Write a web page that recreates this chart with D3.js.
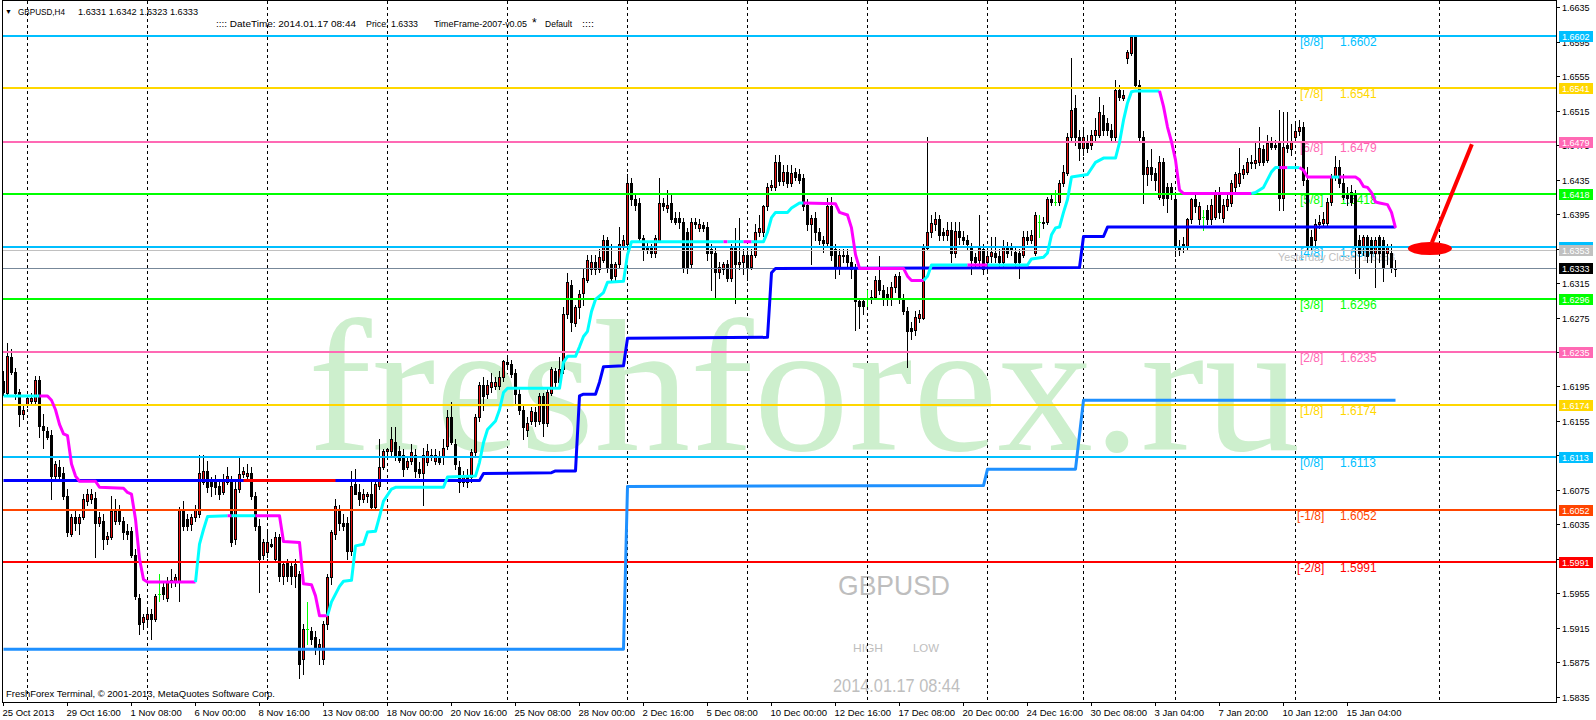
<!DOCTYPE html>
<html><head><meta charset="utf-8">
<script src="https://cdn.jsdelivr.net/npm/d3@7/dist/d3.min.js"></script>
<style>
html,body{margin:0;padding:0;background:#fff;}
svg{display:block;}
</style></head>
<body>
<svg id="chart" width="1596" height="720"></svg>
<script>
// ---------- DATA ----------
// H4 candles [open, high, low, close], oldest first
const ohlc = [
[1.6201,1.6213,1.6185,1.6189],[1.6188,1.6245,1.6185,1.6230],[1.6229,1.6238,1.6210,1.6212],[1.6212,1.6217,1.6180,1.6188],[1.6189,1.6192,1.6149,1.6163],
[1.6163,1.6174,1.6157,1.6168],[1.6175,1.6185,1.6171,1.6182],[1.6178,1.6187,1.6174,1.6182],[1.6178,1.6207,1.6175,1.6203],[1.6203,1.6207,1.6136,1.6149],
[1.6149,1.6163,1.6124,1.6145],[1.6143,1.6148,1.6134,1.6136],[1.6139,1.6145,1.6064,1.6091],[1.6091,1.6108,1.6087,1.6105],[1.6102,1.6110,1.6085,1.6091],
[1.6095,1.6101,1.6064,1.6068],[1.6068,1.6076,1.6021,1.6026],[1.6024,1.6047,1.6021,1.6044],[1.6044,1.6050,1.6029,1.6037],[1.6037,1.6047,1.6024,1.6044],
[1.6044,1.6070,1.6041,1.6064],[1.6062,1.6076,1.6058,1.6070],[1.6064,1.6076,1.6060,1.6070],[1.6066,1.6073,1.5997,1.6037],[1.6037,1.6049,1.6033,1.6043],
[1.6039,1.6047,1.6006,1.6018],[1.6018,1.6026,1.6012,1.6021],[1.6020,1.6068,1.6018,1.6050],[1.6039,1.6064,1.6035,1.6050],[1.6050,1.6058,1.6035,1.6039],
[1.6039,1.6043,1.6018,1.6026],[1.6027,1.6035,1.6018,1.6024],[1.6027,1.6032,1.5997,1.6000],[1.6000,1.6006,1.5948,1.5952],[1.5950,1.5954,1.5908,1.5919],
[1.5922,1.5931,1.5914,1.5927],[1.5925,1.5937,1.5916,1.5931],[1.5931,1.5937,1.5902,1.5925],[1.5925,1.5954,1.5923,1.5952],[1.5954,1.5977,1.5946,1.5954],
[1.5962,1.5968,1.5948,1.5954],[1.5950,1.5974,1.5946,1.5969],[1.5968,1.5983,1.5962,1.5971],[1.5968,1.5977,1.5963,1.5974],[1.5968,1.6055,1.5946,1.6053],
[1.6053,1.6062,1.6029,1.6033],[1.6041,1.6047,1.6029,1.6033],[1.6035,1.6047,1.6029,1.6043],[1.6043,1.6058,1.6039,1.6053],[1.6047,1.6116,1.6044,1.6095],
[1.6084,1.6115,1.6082,1.6097],[1.6097,1.6108,1.6073,1.6078],[1.6085,1.6090,1.6068,1.6079],[1.6085,1.6092,1.6070,1.6078],[1.6079,1.6087,1.6064,1.6070],
[1.6073,1.6093,1.6070,1.6087],[1.6084,1.6101,1.6082,1.6091],[1.6085,1.6091,1.6010,1.6015],[1.6018,1.6084,1.6012,1.6076],[1.6076,1.6113,1.6073,1.6093],
[1.6093,1.6101,1.6090,1.6097],[1.6091,1.6105,1.6087,1.6095],[1.6095,1.6101,1.6064,1.6068],[1.6068,1.6073,1.6029,1.6033],[1.6033,1.6041,1.5956,1.5995],
[1.6000,1.6018,1.5995,1.6014],[1.6003,1.6029,1.5997,1.6014],[1.6012,1.6018,1.6009,1.6010],[1.5995,1.6026,1.5992,1.6020],[1.6020,1.6024,1.5969,1.5975],
[1.5975,1.5992,1.5966,1.5989],[1.5991,1.5995,1.5969,1.5975],[1.5987,1.5992,1.5966,1.5975],[1.5975,1.5995,1.5962,1.5989],[1.5977,1.5981,1.5857,1.5873],
[1.5879,1.5919,1.5861,1.5914],[1.5914,1.5945,1.5896,1.5914],[1.5911,1.5916,1.5896,1.5902],[1.5904,1.5911,1.5885,1.5893],[1.5893,1.5902,1.5873,1.5896],
[1.5879,1.5923,1.5873,1.5919],[1.5919,1.5977,1.5914,1.5974],[1.5974,1.6029,1.5966,1.6026],[1.6024,1.6064,1.6018,1.6056],[1.6053,1.6058,1.6029,1.6037],
[1.6037,1.6047,1.6029,1.6033],[1.6037,1.6043,1.5995,1.6004],[1.6004,1.6097,1.6000,1.6079],[1.6082,1.6099,1.6070,1.6070],[1.6072,1.6082,1.6058,1.6064],
[1.6064,1.6076,1.6061,1.6070],[1.6068,1.6073,1.6061,1.6070],[1.6070,1.6087,1.6053,1.6055],[1.6055,1.6087,1.6053,1.6082],[1.6079,1.6134,1.6076,1.6102],
[1.6102,1.6122,1.6099,1.6120],[1.6120,1.6124,1.6114,1.6122],[1.6120,1.6148,1.6116,1.6134],[1.6130,1.6148,1.6110,1.6116],[1.6120,1.6126,1.6107,1.6110],
[1.6116,1.6122,1.6091,1.6099],[1.6102,1.6113,1.6099,1.6108],[1.6108,1.6128,1.6105,1.6119],[1.6116,1.6122,1.6090,1.6097],[1.6099,1.6107,1.6090,1.6095],
[1.6095,1.6124,1.6058,1.6116],[1.6107,1.6128,1.6104,1.6120],[1.6116,1.6122,1.6110,1.6114],[1.6108,1.6122,1.6105,1.6116],[1.6114,1.6120,1.6105,1.6107],
[1.6113,1.6134,1.6105,1.6124],[1.6126,1.6168,1.6122,1.6160],[1.6160,1.6177,1.6128,1.6130],[1.6128,1.6134,1.6099,1.6105],[1.6102,1.6108,1.6072,1.6084],
[1.6084,1.6097,1.6079,1.6090],[1.6091,1.6099,1.6078,1.6084],[1.6090,1.6122,1.6084,1.6119],[1.6119,1.6163,1.6114,1.6159],[1.6159,1.6200,1.6155,1.6197],
[1.6197,1.6206,1.6168,1.6184],[1.6186,1.6203,1.6182,1.6197],[1.6194,1.6211,1.6189,1.6200],[1.6195,1.6206,1.6192,1.6200],[1.6195,1.6213,1.6192,1.6206],
[1.6206,1.6226,1.6201,1.6224],[1.6223,1.6232,1.6217,1.6221],[1.6221,1.6226,1.6206,1.6209],[1.6211,1.6215,1.6174,1.6186],[1.6186,1.6192,1.6163,1.6168],
[1.6168,1.6174,1.6134,1.6148],[1.6145,1.6159,1.6137,1.6153],[1.6155,1.6171,1.6151,1.6166],[1.6165,1.6171,1.6149,1.6155],[1.6155,1.6188,1.6151,1.6184],
[1.6184,1.6188,1.6137,1.6153],[1.6153,1.6194,1.6149,1.6189],[1.6188,1.6218,1.6185,1.6215],[1.6213,1.6217,1.6194,1.6200],[1.6200,1.6229,1.6196,1.6215],
[1.6215,1.6287,1.6211,1.6279],[1.6279,1.6327,1.6275,1.6316],[1.6313,1.6319,1.6259,1.6270],[1.6269,1.6290,1.6265,1.6287],[1.6287,1.6307,1.6275,1.6302],
[1.6304,1.6331,1.6290,1.6321],[1.6319,1.6348,1.6316,1.6342],[1.6331,1.6348,1.6325,1.6340],[1.6340,1.6348,1.6325,1.6331],[1.6331,1.6354,1.6328,1.6345],
[1.6342,1.6371,1.6339,1.6365],[1.6365,1.6369,1.6328,1.6333],[1.6337,1.6360,1.6319,1.6321],[1.6323,1.6340,1.6319,1.6337],[1.6337,1.6380,1.6333,1.6360],
[1.6357,1.6371,1.6354,1.6365],[1.6360,1.6441,1.6356,1.6431],[1.6431,1.6437,1.6406,1.6412],[1.6412,1.6417,1.6400,1.6406],[1.6408,1.6414,1.6365,1.6367],
[1.6367,1.6371,1.6342,1.6354],[1.6356,1.6362,1.6350,1.6354],[1.6356,1.6360,1.6345,1.6350],[1.6350,1.6371,1.6345,1.6367],[1.6365,1.6437,1.6363,1.6408],
[1.6408,1.6414,1.6400,1.6404],[1.6402,1.6423,1.6398,1.6406],[1.6408,1.6418,1.6386,1.6389],[1.6391,1.6397,1.6383,1.6386],[1.6391,1.6398,1.6379,1.6386],
[1.6386,1.6391,1.6328,1.6334],[1.6374,1.6379,1.6327,1.6334],[1.6337,1.6391,1.6333,1.6386],[1.6386,1.6391,1.6379,1.6383],[1.6379,1.6389,1.6375,1.6383],
[1.6382,1.6386,1.6375,1.6379],[1.6380,1.6386,1.6342,1.6350],[1.6354,1.6360,1.6307,1.6350],[1.6350,1.6356,1.6299,1.6328],[1.6328,1.6340,1.6321,1.6334],
[1.6331,1.6340,1.6325,1.6337],[1.6337,1.6342,1.6317,1.6321],[1.6321,1.6360,1.6317,1.6356],[1.6356,1.6379,1.6292,1.6337],[1.6337,1.6391,1.6331,1.6340],
[1.6339,1.6354,1.6325,1.6348],[1.6348,1.6356,1.6319,1.6334],[1.6334,1.6354,1.6331,1.6348],[1.6348,1.6383,1.6345,1.6374],[1.6374,1.6394,1.6370,1.6379],
[1.6374,1.6406,1.6370,1.6404],[1.6404,1.6431,1.6400,1.6427],[1.6427,1.6435,1.6423,1.6429],[1.6427,1.6464,1.6423,1.6456],[1.6456,1.6464,1.6429,1.6433],
[1.6433,1.6452,1.6429,1.6444],[1.6444,1.6452,1.6426,1.6431],[1.6431,1.6452,1.6428,1.6443],[1.6444,1.6449,1.6435,1.6438],[1.6441,1.6447,1.6431,1.6435],
[1.6437,1.6441,1.6400,1.6404],[1.6406,1.6412,1.6377,1.6383],[1.6383,1.6394,1.6337,1.6391],[1.6391,1.6397,1.6365,1.6374],[1.6374,1.6379,1.6360,1.6365],
[1.6365,1.6370,1.6351,1.6362],[1.6362,1.6414,1.6358,1.6404],[1.6404,1.6415,1.6342,1.6348],[1.6354,1.6360,1.6321,1.6333],[1.6334,1.6354,1.6325,1.6348],
[1.6348,1.6354,1.6340,1.6346],[1.6348,1.6354,1.6333,1.6340],[1.6340,1.6345,1.6321,1.6331],[1.6331,1.6337,1.6261,1.6294],[1.6294,1.6298,1.6263,1.6288],
[1.6294,1.6298,1.6279,1.6288],[1.6298,1.6307,1.6288,1.6298],[1.6296,1.6307,1.6292,1.6299],[1.6299,1.6323,1.6296,1.6319],[1.6319,1.6346,1.6302,1.6307],
[1.6307,1.6313,1.6290,1.6299],[1.6302,1.6310,1.6290,1.6296],[1.6296,1.6316,1.6290,1.6310],[1.6310,1.6325,1.6305,1.6323],[1.6323,1.6328,1.6292,1.6296],
[1.6296,1.6302,1.6279,1.6282],[1.6282,1.6287,1.6218,1.6259],[1.6263,1.6270,1.6250,1.6259],[1.6261,1.6282,1.6255,1.6276],[1.6275,1.6284,1.6270,1.6279],
[1.6275,1.6360,1.6273,1.6356],[1.6356,1.6484,1.6354,1.6374],[1.6374,1.6394,1.6369,1.6385],[1.6383,1.6397,1.6377,1.6389],[1.6389,1.6394,1.6365,1.6371],
[1.6374,1.6379,1.6365,1.6371],[1.6371,1.6386,1.6365,1.6377],[1.6377,1.6386,1.6340,1.6350],[1.6350,1.6386,1.6345,1.6375],[1.6375,1.6386,1.6360,1.6369],
[1.6369,1.6375,1.6360,1.6365],[1.6365,1.6371,1.6354,1.6360],[1.6356,1.6362,1.6325,1.6342],[1.6345,1.6350,1.6333,1.6339],[1.6342,1.6394,1.6333,1.6356],
[1.6354,1.6360,1.6325,1.6331],[1.6340,1.6354,1.6328,1.6346],[1.6346,1.6369,1.6340,1.6351],[1.6350,1.6369,1.6340,1.6345],[1.6346,1.6354,1.6333,1.6339],
[1.6339,1.6365,1.6334,1.6357],[1.6357,1.6363,1.6345,1.6350],[1.6356,1.6362,1.6348,1.6354],[1.6351,1.6356,1.6333,1.6339],[1.6350,1.6354,1.6321,1.6339],
[1.6348,1.6375,1.6345,1.6369],[1.6369,1.6375,1.6360,1.6365],[1.6365,1.6377,1.6362,1.6371],[1.6350,1.6398,1.6347,1.6394],[1.6386,1.6394,1.6369,1.6386],
[1.6386,1.6392,1.6379,1.6385],[1.6386,1.6415,1.6383,1.6412],[1.6412,1.6417,1.6406,1.6409],[1.6409,1.6423,1.6406,1.6409],[1.6409,1.6435,1.6406,1.6431],
[1.6431,1.6452,1.6428,1.6444],[1.6443,1.6489,1.6440,1.6485],[1.6485,1.6576,1.6481,1.6516],[1.6518,1.6533,1.6475,1.6484],[1.6484,1.6493,1.6458,1.6472],
[1.6472,1.6496,1.6464,1.6484],[1.6478,1.6487,1.6467,1.6472],[1.6475,1.6493,1.6470,1.6487],[1.6487,1.6507,1.6481,1.6493],[1.6487,1.6531,1.6484,1.6513],
[1.6510,1.6522,1.6487,1.6493],[1.6501,1.6507,1.6487,1.6493],[1.6493,1.6499,1.6479,1.6485],[1.6485,1.6551,1.6481,1.6539],[1.6539,1.6545,1.6528,1.6531],
[1.6530,1.6539,1.6528,1.6533],[1.6576,1.6586,1.6570,1.6583],[1.6582,1.6602,1.6580,1.6600],[1.6600,1.6602,1.6541,1.6545],[1.6545,1.6551,1.6481,1.6485],
[1.6485,1.6491,1.6408,1.6441],[1.6441,1.6458,1.6429,1.6450],[1.6450,1.6470,1.6435,1.6441],[1.6443,1.6449,1.6423,1.6435],[1.6415,1.6462,1.6412,1.6455],
[1.6455,1.6460,1.6406,1.6414],[1.6426,1.6431,1.6397,1.6414],[1.6426,1.6431,1.6412,1.6418],[1.6412,1.6421,1.6346,1.6357],[1.6357,1.6365,1.6348,1.6354],
[1.6360,1.6368,1.6351,1.6357],[1.6357,1.6391,1.6354,1.6389],[1.6389,1.6414,1.6385,1.6412],[1.6412,1.6417,1.6398,1.6404],[1.6389,1.6409,1.6383,1.6404],
[1.6392,1.6400,1.6377,1.6392],[1.6400,1.6406,1.6383,1.6389],[1.6389,1.6412,1.6383,1.6406],[1.6392,1.6423,1.6389,1.6420],[1.6420,1.6426,1.6391,1.6397],
[1.6391,1.6412,1.6386,1.6406],[1.6404,1.6418,1.6400,1.6412],[1.6408,1.6435,1.6405,1.6431],[1.6426,1.6444,1.6421,1.6441],[1.6431,1.6472,1.6428,1.6443],
[1.6441,1.6452,1.6437,1.6447],[1.6444,1.6460,1.6441,1.6455],[1.6456,1.6464,1.6449,1.6454],[1.6454,1.6479,1.6449,1.6458],[1.6456,1.6496,1.6452,1.6472],
[1.6470,1.6475,1.6452,1.6456],[1.6458,1.6487,1.6455,1.6478],[1.6478,1.6484,1.6470,1.6473],[1.6475,1.6481,1.6470,1.6473],[1.6478,1.6516,1.6400,1.6414],
[1.6414,1.6514,1.6400,1.6473],[1.6475,1.6514,1.6467,1.6472],[1.6470,1.6499,1.6464,1.6479],[1.6484,1.6499,1.6479,1.6491],[1.6491,1.6504,1.6487,1.6496],
[1.6496,1.6502,1.6429,1.6435],[1.6435,1.6450,1.6354,1.6357],[1.6368,1.6377,1.6354,1.6357],[1.6365,1.6389,1.6357,1.6383],[1.6383,1.6394,1.6379,1.6386],
[1.6385,1.6398,1.6382,1.6389],[1.6385,1.6414,1.6382,1.6409],[1.6409,1.6441,1.6406,1.6438],[1.6438,1.6462,1.6435,1.6450],[1.6450,1.6458,1.6426,1.6431],
[1.6431,1.6441,1.6412,1.6415],[1.6418,1.6426,1.6406,1.6414],[1.6421,1.6429,1.6406,1.6409],[1.6418,1.6423,1.6327,1.6357],[1.6365,1.6371,1.6321,1.6350],
[1.6357,1.6371,1.6348,1.6369],[1.6369,1.6371,1.6340,1.6346],[1.6365,1.6369,1.6340,1.6350],[1.6350,1.6369,1.6311,1.6365],[1.6369,1.6371,1.6340,1.6350],
[1.6365,1.6369,1.6317,1.6334],[1.6350,1.6360,1.6337,1.6357],[1.6350,1.6360,1.6328,1.6333],[1.6331,1.6342,1.6323,1.6333]
];

// Murrey Math levels
const levelNames  = ['[-2/8]','[-1/8]','[0/8]','[1/8]','[2/8]','[3/8]','[4/8]','[5/8]','[6/8]','[7/8]','[8/8]'];
const levelValues = [1.5991, 1.6052, 1.6113, 1.6174, 1.6235, 1.6296, 1.6357, 1.6418, 1.6479, 1.6541, 1.6602];
const yesterdayClose = 1.6353;
const bidPrice = 1.6333;

// trailing trend line: [bar, value] vertices, dir up = below price, down = above price
const trendLine = [
 {dir:'up',   pts:[[0,1.6184],[9,1.6184]]},
 {dir:'down', pts:[[9,1.6184],[11,1.6184],[12,1.6179],[13,1.6168],[14,1.6151],[15,1.6140],[16,1.6138],[17,1.6105],[18,1.6091],[19,1.6085],[23,1.6085],[24,1.6078],[30,1.6077],[31,1.6072],[32,1.6070],[33,1.6041],[34,1.5995],[35,1.5971],[36,1.5968],[48,1.5968]]},
 {dir:'up',   pts:[[48,1.5968],[49,1.6012],[50,1.6029],[51,1.6044],[56,1.6045]]},
 {dir:'down', pts:[[56,1.6045],[57,1.6045]]},
 {dir:'up',   pts:[[57,1.6045],[63,1.6045]]},
 {dir:'down', pts:[[63,1.6045],[69,1.6045],[70,1.6015],[74,1.6014],[75,1.5966],[77,1.5965],[78,1.5952],[79,1.5929],[81,1.5929]]},
 {dir:'up',   pts:[[81,1.5929],[82,1.5945],[84,1.5963],[85,1.5969],[87,1.5970],[88,1.6010],[90,1.6012],[91,1.6026],[93,1.6027],[94,1.6044],[95,1.6062],[97,1.6076],[98,1.6078],[110,1.6078],[111,1.6090],[118,1.6091],[119,1.6107],[120,1.6130],[121,1.6145],[123,1.6155],[124,1.6168],[125,1.6188],[126,1.6193],[139,1.6193],[140,1.6223],[141,1.6230],[143,1.6230],[144,1.6241],[145,1.6253],[146,1.6259],[147,1.6282],[148,1.6296],[150,1.6304],[151,1.6316],[155,1.6317],[156,1.6348],[157,1.6363],[180,1.6363]]},
 {dir:'down', pts:[[180,1.6363],[181,1.6363]]},
 {dir:'up',   pts:[[181,1.6363],[185,1.6363]]},
 {dir:'down', pts:[[185,1.6363],[187,1.6363]]},
 {dir:'up',   pts:[[187,1.6363],[190,1.6363],[191,1.6374],[192,1.6391],[193,1.6397],[196,1.6397],[197,1.6402],[199,1.6408],[200,1.6408]]},
 {dir:'down', pts:[[200,1.6408],[208,1.6407],[209,1.6397],[211,1.6394],[212,1.6379],[213,1.6348],[214,1.6332],[225,1.6332],[226,1.6323],[227,1.6318],[230,1.6318]]},
 {dir:'up',   pts:[[230,1.6318],[231,1.6323],[232,1.6336],[241,1.6336]]},
 {dir:'down', pts:[[241,1.6336],[246,1.6336]]},
 {dir:'up',   pts:[[246,1.6336],[256,1.6336],[257,1.6343],[260,1.6345],[261,1.6350],[262,1.6371],[263,1.6379],[264,1.6380],[265,1.6397],[266,1.6412],[267,1.6438],[271,1.6441],[273,1.6455],[275,1.6460],[278,1.6460],[279,1.6478],[280,1.6504],[281,1.6524],[282,1.6537],[283,1.6538],[289,1.6538]]},
 {dir:'down', pts:[[289,1.6538],[290,1.6520],[291,1.6496],[292,1.6479],[293,1.6458],[294,1.6423],[295,1.6419],[312,1.6419]]},
 {dir:'up',   pts:[[312,1.6419],[313,1.6420],[315,1.6426],[316,1.6435],[317,1.6444],[318,1.6449],[319,1.6449]]},
 {dir:'down', pts:[[319,1.6449],[321,1.6449]]},
 {dir:'up',   pts:[[321,1.6449],[324,1.6449]]},
 {dir:'down', pts:[[324,1.6449],[325,1.6446],[326,1.6438],[332,1.6438]]},
 {dir:'up',   pts:[[332,1.6438],[334,1.6438]]},
 {dir:'down', pts:[[334,1.6438],[338,1.6438],[339,1.6435],[340,1.6427],[341,1.6426],[342,1.6420],[343,1.6409],[344,1.6408],[346,1.6406],[347,1.6397],[348,1.6379]]}
];

// stepped base line and its alert section (bars)
const baseLine = [[0,1.6086],[119,1.6086],[120,1.6094],[137,1.6095],[138,1.6097],[143,1.6097],[144,1.6184],[145,1.6186],[148,1.6186],[149,1.6200],[150,1.6218],[155,1.6219],[156,1.6251],[191,1.6252],[192,1.6327],[193,1.6332],[269,1.6333],[270,1.6369],[275,1.6369],[276,1.6380],[348,1.6380]];
const baseLineAlert = [60, 83];
// stepped support line
const supportLine = [[0,1.5890],[155,1.5890],[156,1.6079],[245,1.6080],[246,1.6099],[268,1.6099],[270,1.6179],[348,1.6179]];

const priceTicks = [1.5835,1.5875,1.5915,1.5955,1.5995,1.6035,1.6075,1.6115,1.6155,1.6195,1.6235,1.6275,1.6315,1.6355,1.6395,1.6435,1.6475,1.6515,1.6555,1.6595,1.6635];
const timeLabels = ['25 Oct 2013','29 Oct 16:00','1 Nov 08:00','6 Nov 00:00','8 Nov 16:00','13 Nov 08:00','18 Nov 00:00','20 Nov 16:00','25 Nov 08:00','28 Nov 00:00','2 Dec 16:00','5 Dec 08:00','10 Dec 00:00','12 Dec 16:00','17 Dec 08:00','20 Dec 00:00','24 Dec 16:00','30 Dec 08:00','3 Jan 04:00','7 Jan 20:00','10 Jan 12:00','15 Jan 04:00'];
const timeLabelBars = [0,16,32,48,64,80,96,112,128,144,160,176,192,208,224,240,256,272,288,304,320,336];
const gridBars = [6,36,66,96,126,156,186,216,246,270,293,323,359];

// annotation (bar, price)
const markCenter = [356.6, 1.6355];
const markArrow = [[357.1, 1.6362],[367.1, 1.6476]];

const symbol = 'GBPUSD';
const headerTitle = 'GBPUSD,H4';
const headerOHLC = '1.6331 1.6342 1.6323 1.6333';
const infoDate = '2014.01.17 08:44';

// ---------- DRAW ----------
const SANS = '"Liberation Sans", Arial, sans-serif';
const svg = d3.select('#chart');
const x = d3.scaleLinear().domain([0, 388]).range([3.5, 1555.5]);
const y = d3.scaleLinear().domain([1.5835, 1.6635]).range([696.7, 7.3]);
const ry = v => Math.round(y(v));

svg.append('rect').attr('width',1596).attr('height',720).attr('fill','#fff');
svg.append('defs').append('clipPath').attr('id','clip')
  .append('rect').attr('x',3).attr('y',1).attr('width',1553).attr('height',701);
const plot = svg.append('g').attr('clip-path','url(#clip)');

// info texts (behind grid)
const info = plot.append('g').attr('fill','#BEBEBE').attr('font-family',SANS);
info.append('text').attr('x',838).attr('y',595).attr('font-size',28)
  .attr('textLength',112).attr('lengthAdjust','spacingAndGlyphs').text(symbol);
info.append('text').attr('x',853).attr('y',652).attr('font-size',11.5)
  .attr('textLength',30).attr('lengthAdjust','spacingAndGlyphs').text('HIGH');
info.append('text').attr('x',913).attr('y',652).attr('font-size',11.5)
  .attr('textLength',26).attr('lengthAdjust','spacingAndGlyphs').text('LOW');
info.append('text').attr('x',833).attr('y',692).attr('font-size',19)
  .attr('textLength',127).attr('lengthAdjust','spacingAndGlyphs').text(infoDate);

// grid
plot.append('g').selectAll('line').data(gridBars).join('line')
  .attr('x1',d=>x(d)).attr('x2',d=>x(d)).attr('y1',1).attr('y2',702)
  .attr('stroke','#000').attr('stroke-width',1).attr('stroke-dasharray','3,3');

// watermark
plot.append('text').attr('x',308).attr('y',450)
  .attr('font-family','"Liberation Serif","Times New Roman",serif').attr('font-size',188)
  .attr('fill','#CDEFCD').attr('textLength',992).attr('lengthAdjust','spacingAndGlyphs')
  .text('freshforex.ru');

const levelColor = ['#FF0000','#FF4500','#00BFFF','#FFD700','#FF69B4','#00FF00','#00BFFF','#00FF00','#FF69B4','#FFD700','#00BFFF'];

// level labels
const lbl = plot.append('g').attr('font-family',SANS).attr('font-size',12);
lbl.selectAll('text.n').data(levelValues).join('text').attr('class','n')
  .attr('x',(d,i)=> levelNames[i].includes('-') ? 1297 : 1300)
  .attr('y',d=>ry(d)+10).attr('fill',(d,i)=>levelColor[i]).text((d,i)=>levelNames[i]);
lbl.selectAll('text.v').data(levelValues).join('text').attr('class','v')
  .attr('x',1340).attr('y',d=>ry(d)+10).attr('fill',(d,i)=>levelColor[i]).text(d=>d.toFixed(4));
plot.append('text').attr('x',1278).attr('y',ry(yesterdayClose)+11).attr('font-family',SANS)
  .attr('font-size',11).attr('fill','#C0C0C0').attr('textLength',117).attr('lengthAdjust','spacingAndGlyphs')
  .text('Yesterday Close: ' + yesterdayClose.toFixed(4));

// candles
const cg = plot.append('g');
const bars = ohlc.map((d,i)=>({i, o:d[0], h:d[1], l:d[2], c:d[3]}));
cg.selectAll('line').data(bars).join('line')
  .attr('x1',d=>x(d.i)).attr('x2',d=>x(d.i))
  .attr('y1',d=>ry(d.h)).attr('y2',d=>ry(d.l)+1)
  .attr('stroke',d=> d.o===d.c ? '#00FF00' : '#000').attr('stroke-width',1);
cg.selectAll('rect.body').data(bars).join('rect').attr('class','body')
  .attr('x',d=>x(d.i)-1.5).attr('width',3)
  .attr('y',d=>Math.min(ry(d.o),ry(d.c)))
  .attr('height',d=>Math.abs(ry(d.o)-ry(d.c))+1)
  .attr('fill',d=> d.o===d.c ? '#00FF00' : '#000');
cg.selectAll('rect.bull').data(bars.filter(d=>d.c>d.o && Math.abs(ry(d.o)-ry(d.c))>=2)).join('rect').attr('class','bull')
  .attr('x',d=>x(d.i)-0.5).attr('width',1)
  .attr('y',d=>ry(d.c)+1).attr('height',d=>ry(d.o)-ry(d.c)-1)
  .attr('fill','#E81010');

// level lines
plot.append('g').selectAll('line').data(levelValues).join('line')
  .attr('x1',3).attr('x2',1556).attr('y1',d=>ry(d)).attr('y2',d=>ry(d))
  .attr('stroke',(d,i)=>levelColor[i]).attr('stroke-width',2);
plot.append('line').attr('x1',3).attr('x2',1556).attr('y1',ry(yesterdayClose)+0.5).attr('y2',ry(yesterdayClose)+0.5)
  .attr('stroke','#C0C0C0').attr('stroke-width',1);
plot.append('line').attr('x1',3).attr('x2',1556).attr('y1',ry(bidPrice)+0.5).attr('y2',ry(bidPrice)+0.5)
  .attr('stroke','#778899').attr('stroke-width',1);

// indicator lines
const line = d3.line().x(d=>x(d[0])).y(d=>y(d[1]));
plot.append('path').datum(supportLine).attr('d',line).attr('fill','none')
  .attr('stroke','#1E90FF').attr('stroke-width',3).attr('stroke-linejoin','round');
plot.append('path').datum(baseLine).attr('d',line).attr('fill','none')
  .attr('stroke','#0000FF').attr('stroke-width',3).attr('stroke-linejoin','round');
plot.append('path').datum([[baseLineAlert[0],baseLine[0][1]],[baseLineAlert[1],baseLine[0][1]]]).attr('d',line)
  .attr('fill','none').attr('stroke','#FF0000').attr('stroke-width',3);
plot.append('g').selectAll('path').data(trendLine).join('path')
  .attr('d',d=>line(d.pts)).attr('fill','none')
  .attr('stroke',d=> d.dir==='up' ? '#00FFFF' : '#FF00FF')
  .attr('stroke-width',3).attr('stroke-linejoin','round').attr('stroke-linecap','butt');

// annotation
plot.append('ellipse').attr('cx',x(markCenter[0])).attr('cy',y(markCenter[1])).attr('rx',22).attr('ry',6.5).attr('fill','#FF0000');
plot.append('path').datum(markArrow).attr('d',line).attr('stroke','#FF0000').attr('stroke-width',4).attr('fill','none');

// copyright
plot.append('text').attr('x',6).attr('y',697).attr('font-family',SANS).attr('font-size',9.5)
  .attr('textLength',269).attr('lengthAdjust','spacingAndGlyphs')
  .text('FreshForex Terminal, \u00A9 2001-2013, MetaQuotes Software Corp.');

// frame
svg.append('rect').attr('x',2.5).attr('y',0.5).attr('width',1554).attr('height',702)
  .attr('fill','none').attr('stroke','#000').attr('stroke-width',1);

// price axis
const pa = svg.append('g').attr('font-family',SANS).attr('font-size',9);
pa.selectAll('line').data(priceTicks).join('line')
  .attr('x1',1557).attr('x2',1560).attr('y1',d=>ry(d)+0.5).attr('y2',d=>ry(d)+0.5).attr('stroke','#000');
pa.selectAll('text').data(priceTicks).join('text')
  .attr('x',1562).attr('y',d=>ry(d)+3.5).attr('fill','#000').text(d=>d.toFixed(4));

const boxes = levelValues.map((v,i)=>({v, bg:levelColor[i]}))
  .concat([{v:yesterdayClose, bg:'#C0C0C0'},{v:bidPrice, bg:'#000000'}]);
const bx = svg.append('g').attr('font-family',SANS).attr('font-size',9);
bx.selectAll('g').data(boxes).join('g').each(function(d){
  const gg = d3.select(this);
  gg.append('rect').attr('x',1559).attr('y',ry(d.v)-5).attr('width',34).attr('height',11).attr('fill',d.bg);
  gg.append('text').attr('x',1562).attr('y',ry(d.v)+3.5).attr('fill','#fff').text(d.v.toFixed(4));
});

// time axis
const ta = svg.append('g').attr('font-family',SANS).attr('font-size',9.5);
ta.selectAll('line').data(timeLabelBars).join('line')
  .attr('x1',d=>x(d)).attr('x2',d=>x(d)).attr('y1',703).attr('y2',706).attr('stroke','#000');
ta.selectAll('text').data(timeLabelBars).join('text')
  .attr('x',d=>x(d)-1).attr('y',715.5).attr('fill','#000').text((d,i)=>timeLabels[i]);

// header
const hd = svg.append('g').attr('font-family',SANS).attr('font-size',9.5).attr('fill','#000');
hd.append('text').attr('x',5).attr('y',14).attr('font-size',7).text('\u25BC');
hd.append('text').attr('x',18).attr('y',14.5).attr('textLength',47).attr('lengthAdjust','spacingAndGlyphs').text(headerTitle);
hd.append('text').attr('x',78).attr('y',14.5).attr('textLength',120).attr('lengthAdjust','spacingAndGlyphs').text(headerOHLC);
hd.append('text').attr('x',216).attr('y',27).attr('textLength',140).attr('lengthAdjust','spacingAndGlyphs').text(':::: DateTime: ' + infoDate);
hd.append('text').attr('x',366).attr('y',27).attr('textLength',52).attr('lengthAdjust','spacingAndGlyphs').text('Price: ' + bidPrice.toFixed(4));
hd.append('text').attr('x',434).attr('y',27).attr('textLength',93).attr('lengthAdjust','spacingAndGlyphs').text('TimeFrame-2007-v0.05');
hd.append('text').attr('x',532).attr('y',27).attr('font-size',12).text('*');
hd.append('text').attr('x',545).attr('y',27).attr('textLength',27).attr('lengthAdjust','spacingAndGlyphs').text('Default');
hd.append('text').attr('x',582).attr('y',27).attr('textLength',12).attr('lengthAdjust','spacingAndGlyphs').text('::::');
</script>
</body></html>
